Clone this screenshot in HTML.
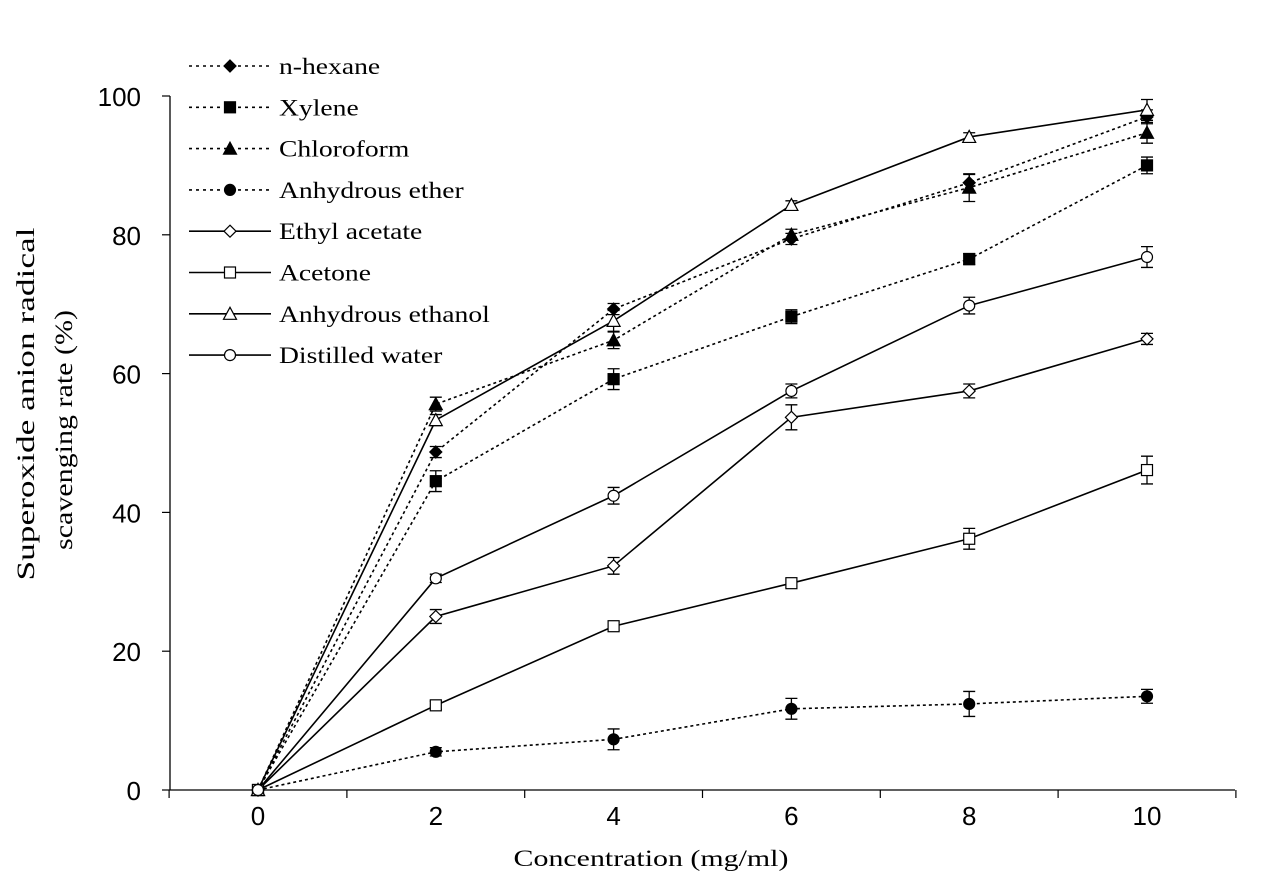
<!DOCTYPE html>
<html><head><meta charset="utf-8"><style>
html,body{margin:0;padding:0;background:#fff;}
svg{display:block;}
</style></head><body>
<svg id="chart" width="1283" height="888" viewBox="0 0 1283 888" xmlns="http://www.w3.org/2000/svg">
<g id="axes"></g>
<g id="series"></g>
<g id="legend"></g>
<text class="st" data-f="1.3" x="651" y="866" font-family="Liberation Serif, serif" font-size="23" text-anchor="middle">Concentration (mg/ml)</text>
<text transform="translate(34,404) rotate(-90)" font-family="Liberation Serif, serif" font-size="25" text-anchor="middle" textLength="353" lengthAdjust="spacingAndGlyphs">Superoxide anion radical</text>
<text transform="translate(72,430) rotate(-90)" font-family="Liberation Serif, serif" font-size="25" text-anchor="middle" textLength="240" lengthAdjust="spacingAndGlyphs">scavenging rate (%)</text>
</svg>
<script>
const categories = [0, 2, 4, 6, 8, 10];
const yTicks = [0, 20, 40, 60, 80, 100];
const seriesNames = ["n-hexane","Xylene","Chloroform","Anhydrous ether","Ethyl acetate","Acetone","Anhydrous ethanol","Distilled water"];
const nHexane = [0, 48.7, 69.3, 79.4, 87.5, 97.0];
const xylene = [0, 44.5, 59.2, 68.2, 76.5, 90.0];
const chloroform = [0, 55.6, 64.8, 80.0, 86.8, 94.7];
const ether = [0, 5.5, 7.3, 11.7, 12.4, 13.5];
const ethylAcetate = [0, 25.0, 32.3, 53.7, 57.5, 65.0];
const acetone = [0, 12.2, 23.6, 29.8, 36.2, 46.1];
const ethanol = [0, 53.3, 67.6, 84.3, 94.1, 98.0];
const water = [0, 30.5, 42.4, 57.5, 69.8, 76.8];
const errHexane = [0, 0.8, 0.8, 0.8, 1.2, 1.0];
const errXylene = [0, 1.5, 1.5, 1.0, 0.8, 1.2];
const errChloro = [0, 1.0, 1.2, 0.8, 2.0, 1.5];
const errEther = [0, 0.6, 1.5, 1.5, 1.8, 1.0];
const errEthyl = [0, 1.0, 1.2, 1.8, 1.0, 0.8];
const errAcetone = [0, 0.6, 0.6, 0.6, 1.5, 2.0];
const errEthanol = [0, 0.8, 1.5, 0.6, 0.6, 1.5];
const errWater = [0, 0.6, 1.2, 1.0, 1.2, 1.5];

const NS="http://www.w3.org/2000/svg";
function xs(c){return 258 + c*88.9;}
function ys(v){return 790 - v*6.94;}
function mk(tag, attrs, parent){const e=document.createElementNS(NS,tag);for(const k in attrs)e.setAttribute(k,attrs[k]);parent.appendChild(e);return e;}
const axes=document.getElementById('axes');
let e;
e=mk('line',{x1:170,y1:790,x2:1235,y2:790,stroke:'#000','stroke-width':1.3},axes);


e=mk('line',{x1:170,y1:96,x2:170,y2:790,stroke:'#000','stroke-width':1.3},axes);


for(let i=0;i<=categories.length;i++){
  const x=xs(categories[0]) + (i-0.5)*88.9*2;
  e=mk('line',{x1:x,y1:790,x2:x,y2:798,stroke:'#000','stroke-width':1.2},axes);
  
  
}
categories.forEach(c=>{
  e=mk('text',{x:xs(c),y:825,'font-family':'Liberation Sans, sans-serif','font-size':26,'text-anchor':'middle'},axes);
  e.textContent=c;
  
  
});
yTicks.forEach(v=>{
  e=mk('line',{x1:162,y1:ys(v),x2:170,y2:ys(v),stroke:'#000','stroke-width':1.2},axes);
  
  
  e=mk('text',{x:141,y:ys(v)+10,'font-family':'Liberation Sans, sans-serif','font-size':26,'text-anchor':'end'},axes);
  e.textContent=v;
  
  
});
const allData=[nHexane,xylene,chloroform,ether,ethylAcetate,acetone,ethanol,water];
const allErr=[errHexane,errXylene,errChloro,errEther,errEthyl,errAcetone,errEthanol,errWater];
const markers=['diamond','square','triangle','circle','diamond-o','square-o','triangle-o','circle-o'];
const dashed=[true,true,true,true,false,false,false,false];
function marker(type,x,y,parent){
  const filled=!type.endsWith('-o');const t=type.replace('-o','');
  const fill=filled?'#000':'#fff';let m;
  if(t==='diamond') m=mk('polygon',{points:`${x},${y-6} ${x+6},${y} ${x},${y+6} ${x-6},${y}`,fill,stroke:'#000','stroke-width':1.2},parent);
  else if(t==='square') m=mk('rect',{x:x-5.5,y:y-5.5,width:11,height:11,fill,stroke:'#000','stroke-width':1.2},parent);
  else if(t==='triangle') m=mk('polygon',{points:`${x},${y-6.5} ${x+6.5},${y+5.5} ${x-6.5},${y+5.5}`,fill,stroke:'#000','stroke-width':1.2},parent);
  else m=mk('circle',{cx:x,cy:y,r:5.5,fill,stroke:'#000','stroke-width':1.2},parent);
  return m;
}
const sg=document.getElementById('series');
allData.forEach((d,si)=>{
  const g=mk('g',{},sg);
  
  
  const pts=d.map((v,i)=>xs(categories[i])+','+ys(v)).join(' ');
  const pl=mk('polyline',{points:pts,fill:'none',stroke:'#000','stroke-width':1.6,'stroke-dasharray':dashed[si]?'3,3':'none'},g);
  
  
  d.forEach((v,i)=>{
    const er=allErr[si][i];
    if(er>0){
      const x=xs(categories[i]);
      const eb=mk('path',{d:`M${x},${ys(v+er)}V${ys(v-er)}M${x-6},${ys(v+er)}H${x+6}M${x-6},${ys(v-er)}H${x+6}`,stroke:'#000','stroke-width':1.3,fill:'none'},g);
      
      
    }
    const m=marker(markers[si],xs(categories[i]),ys(v),g);
    
    
  });
});
const lg=document.getElementById('legend');
seriesNames.forEach((n,i)=>{
  const y=66+i*41.3;
  const g=mk('g',{},lg);
  
  
  mk('line',{x1:189,y1:y,x2:271,y2:y,stroke:'#000','stroke-width':1.6,'stroke-dasharray':dashed[i]?'3,4':'none'},g);
  marker(markers[i],230,y,g);
  const t=mk('text',{x:279,y:y+8,'font-family':'Liberation Serif, serif','font-size':23,'class':'st','data-f':'1.2'},g);
  t.textContent=n;
});
document.querySelectorAll('text.st').forEach(t=>{
  const L=t.getComputedTextLength()*parseFloat(t.getAttribute('data-f'));
  t.setAttribute('textLength',L);
  t.setAttribute('lengthAdjust','spacingAndGlyphs');
});
</script>
</body></html>
